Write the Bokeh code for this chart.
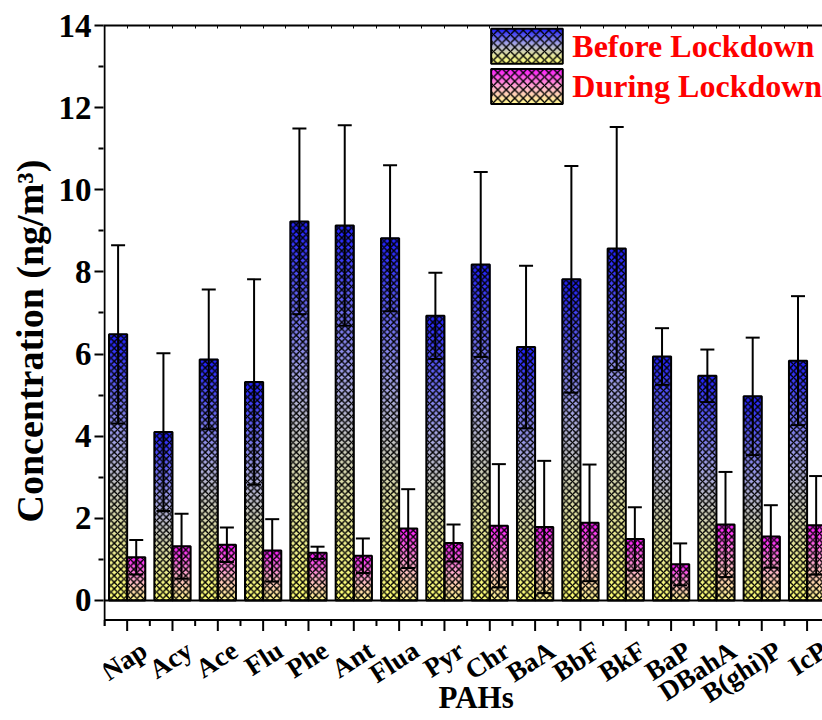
import math
from bokeh.plotting import figure
from bokeh.models import (Range1d, FixedTicker, LinearAxis, ColumnDataSource,
                          Label, Whisker, TeeHead, Span, Title)
from bokeh.core.properties import value
from bokeh.embed import file_html
from bokeh.resources import INLINE

# ---------------- data ----------------
categories = ["Nap", "Acy", "Ace", "Flu", "Phe", "Ant", "Flua", "Pyr", "Chr",
              "BaA", "BbF", "BkF", "BaP", "DBahA", "B(ghi)P", "IcP"]
before = [6.48, 4.10, 5.87, 5.32, 9.23, 9.13, 8.82, 6.93, 8.18, 6.17, 7.82,
          8.57, 5.94, 5.47, 4.97, 5.84]
before_err = [2.17, 1.92, 1.70, 2.50, 2.26, 2.44, 1.78, 1.05, 2.25, 1.98, 2.76,
              2.96, 0.69, 0.64, 1.43, 1.57]
during = [1.05, 1.32, 1.36, 1.22, 1.16, 1.09, 1.75, 1.40, 1.82, 1.79, 1.89,
          1.50, 0.88, 1.85, 1.56, 1.83]
during_err = [0.42, 0.79, 0.42, 0.76, 0.15, 0.42, 0.96, 0.45, 1.50, 1.61, 1.42,
              0.77, 0.51, 1.28, 0.76, 1.20]
y_ticks = [0, 2, 4, 6, 8, 10, 12, 14]
y_minor = [1, 3, 5, 7, 9, 11, 13]
series_names = ["Before Lockdown", "During Lockdown"]
x_title = "PAHs"
y_title = "Concentration (ng/m\u00b3)"

# ---------------- style ----------------
FONT = "Liberation Serif"
BAR_W = 0.4
N_SLICES = 40
PX_PER_Y = 41.07     # pixels per y unit (for pixel-sized tick decorations)
X_AXIS_Y = -0.475    # where the bottom axis line sits
before_stops = [(0.0, (255, 255, 115)), (0.3, (222, 222, 165)),
                (0.6, (160, 160, 228)), (1.0, (32, 32, 250))]
during_stops = [(0.0, (255, 250, 140)), (0.45, (255, 185, 200)),
                (1.0, (250, 25, 250))]


def color_at(stops, f):
    for (f0, c0), (f1, c1) in zip(stops[:-1], stops[1:]):
        if f <= f1:
            t = (f - f0) / (f1 - f0)
            c = tuple(int(round(a + (b - a) * t)) for a, b in zip(c0, c1))
            return "#%02x%02x%02x" % c
    return "#%02x%02x%02x" % stops[-1][1]


p = figure(width=822, height=720, output_backend="svg", toolbar_location=None,
           x_range=Range1d(-0.522, 15.34), y_range=Range1d(-2.922, 14),
           x_axis_location=None,
           min_border_left=103, min_border_right=0, min_border_top=25,
           min_border_bottom=0)
p.xgrid.visible = False
p.ygrid.visible = False
p.outline_line_color = None


def gradient_bars(lefts, widths, bottoms, tops, stops):
    L, R, B, T, C = [], [], [], [], []
    for xl, wd, b0, t0 in zip(lefts, widths, bottoms, tops):
        h = t0 - b0
        for k in range(N_SLICES):
            L.append(xl)
            R.append(xl + wd)
            B.append(b0 + h * k / N_SLICES)
            T.append(b0 + h * (k + 1) / N_SLICES)
            C.append(color_at(stops, (k + 0.5) / N_SLICES))
    p.quad(left=L, right=R, bottom=B, top=T, fill_color=C, line_color=C,
           line_width=1)


idx = list(range(len(categories)))
left_b = [i - BAR_W for i in idx]
left_d = [i for i in idx]

gradient_bars(left_b, [BAR_W] * len(idx), [0] * len(idx), before, before_stops)
gradient_bars(left_d, [BAR_W] * len(idx), [0] * len(idx), during, during_stops)

for lefts, vals in ((left_b, before), (left_d, during)):
    p.quad(left=lefts, right=[l + BAR_W for l in lefts], bottom=0, top=vals,
           fill_color=None, hatch_pattern="diagonal_cross", hatch_color="black",
           hatch_scale=6.5, hatch_weight=1.4, hatch_alpha=1.0,
           line_color="black", line_width=2)

# baseline at zero
p.add_layout(Span(location=0, dimension="width", line_color="black",
                  line_width=2))

# error bars
for lefts, vals, errs in ((left_b, before, before_err),
                          (left_d, during, during_err)):
    src = ColumnDataSource(dict(
        x=[l + BAR_W / 2 for l in lefts],
        lower=[v - e for v, e in zip(vals, errs)],
        upper=[v + e for v, e in zip(vals, errs)]))
    w = Whisker(source=src, base="x", lower="lower", upper="upper",
                dimension="height", line_color="black", line_width=2,
                upper_head=TeeHead(size=14, line_width=2, line_color="black"),
                lower_head=TeeHead(size=14, line_width=2, line_color="black"),
                level="overlay")
    p.add_layout(w)

# legend (drawn by hand to keep gradient + hatch)
LEG_X0, LEG_W = 8.03, 1.58
LEG_ROWS = [(13.07, 13.92), (12.09, 12.94)]
for (yb, yt), stops, name in zip(LEG_ROWS, (before_stops, during_stops),
                                 series_names):
    gradient_bars([LEG_X0], [LEG_W], [yb], [yt], stops)
    p.quad(left=[LEG_X0], right=[LEG_X0 + LEG_W], bottom=[yb],
           top=[yt], fill_color=None, hatch_pattern="diagonal_cross",
           hatch_color="black", hatch_scale=8.5, hatch_weight=1.4,
           line_color="black", line_width=2)
    p.add_layout(Label(x=9.82, y=(yb + yt) / 2, text=name, text_font=FONT,
                       text_font_style="bold", text_font_size="32px",
                       text_color="#ff0000", text_baseline="middle",
                       text_align="left"))

# ---------------- bottom axis drawn inside the (extended) frame -------------
x_lo, x_hi = -0.5, p.x_range.end
p.segment(x0=[x_lo], y0=[X_AXIS_Y], x1=[x_hi], y1=[X_AXIS_Y],
          line_color="black", line_width=2)
maj_len = 11 / PX_PER_Y
min_len = 6 / PX_PER_Y
p.segment(x0=idx, y0=[X_AXIS_Y] * len(idx), x1=idx,
          y1=[X_AXIS_Y - maj_len] * len(idx), line_color="black", line_width=2)
minor_x = [i - 0.5 for i in idx] + [idx[-1] + 0.5]
p.segment(x0=minor_x, y0=[X_AXIS_Y] * len(minor_x), x1=minor_x,
          y1=[X_AXIS_Y - min_len] * len(minor_x), line_color="black",
          line_width=2)
# left axis line (stops at the bottom axis like the original)
p.segment(x0=[x_lo], y0=[X_AXIS_Y - min_len], x1=[x_lo], y1=[14],
          line_color="black", line_width=2)

# category labels
lab_src = ColumnDataSource(dict(x=idx, label=categories))
p.text(x="x", y=-1.15, text="label", source=lab_src,
       text_font=value(FONT), text_font_style="bold",
       text_font_size="27px", text_color="black",
       text_align="right", text_baseline="middle",
       angle=math.radians(33), x_offset=17)
p.text(x=[7.70], y=[-2.37], text=[x_title], text_font=value(FONT),
       text_font_style="bold", text_font_size="31px", text_color="black",
       text_align="center", text_baseline="middle")

# ---------------- axes ----------------
ya = p.yaxis[0]
ya.ticker = FixedTicker(ticks=y_ticks, minor_ticks=y_minor)
ya.axis_line_color = None
ya.major_tick_line_width = 2
ya.minor_tick_line_width = 2
ya.major_tick_out = 9
ya.major_tick_in = 0
ya.minor_tick_out = 5
ya.minor_tick_in = 0
ya.major_label_text_font = FONT
ya.major_label_text_font_style = "bold"
ya.major_label_text_font_size = "33px"
ya.major_label_text_color = "black"
ya.major_label_standoff = 3

top_axis = LinearAxis(ticker=FixedTicker(ticks=idx, minor_ticks=[i - 0.5 for i in idx]),
                      major_label_overrides={i: "" for i in idx},
                      major_label_text_font_size="1px",
                      axis_line_width=2, major_tick_in=3, major_tick_out=0,
                      minor_tick_in=3, minor_tick_out=0,
                      major_tick_line_width=1, minor_tick_line_width=1)
p.add_layout(top_axis, "above")

p.add_layout(Title(text=y_title, align="left", offset=198, standoff=9,
                   text_font=FONT, text_font_style="bold",
                   text_font_size="38px", text_color="black"), "left")

open("out.html", "w").write(file_html(p, INLINE))
